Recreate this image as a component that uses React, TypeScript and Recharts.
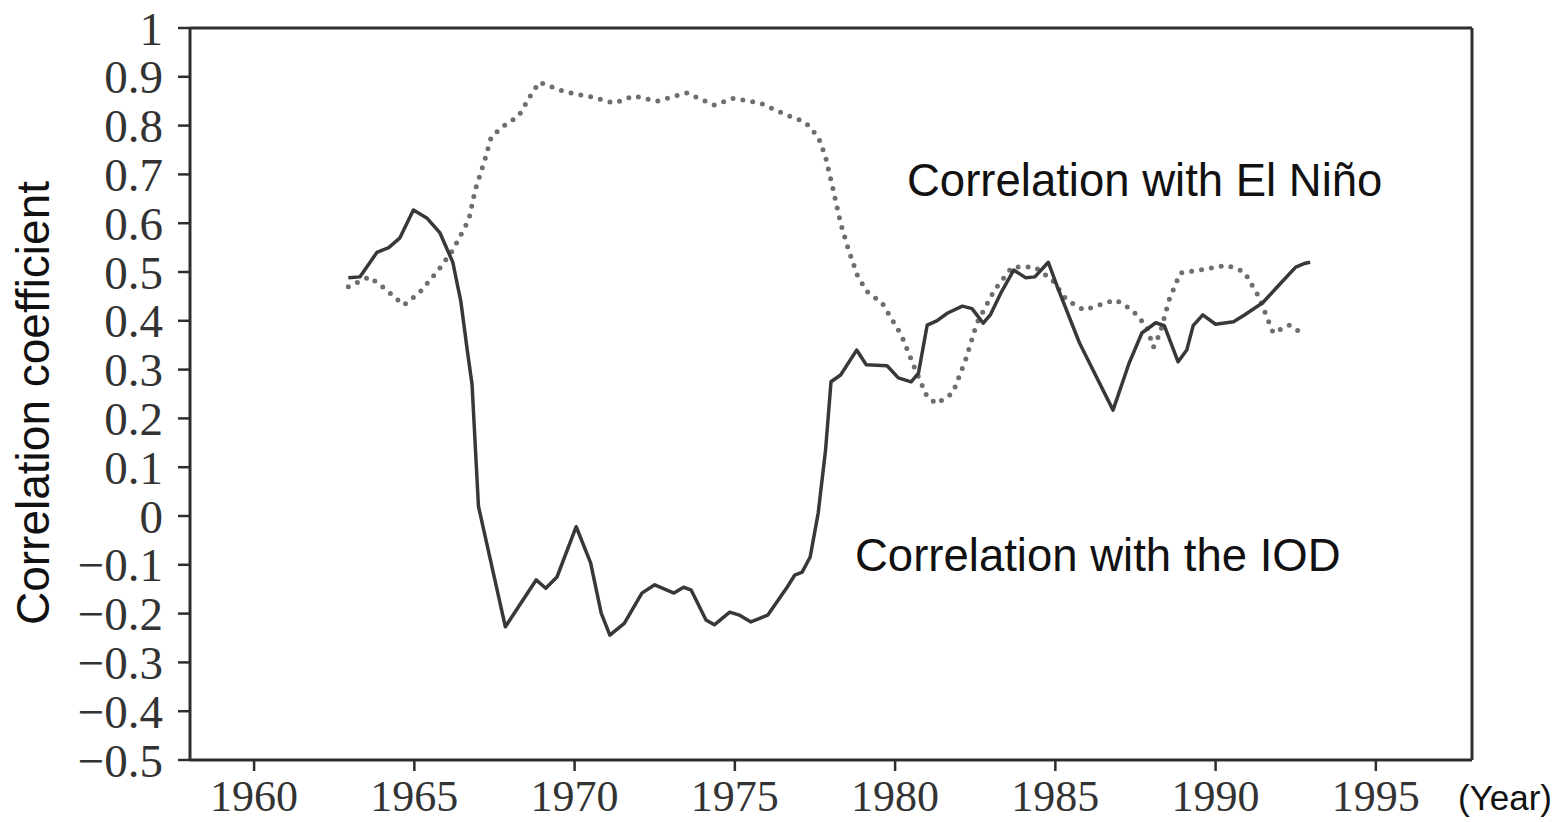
import React from 'react';
import { LineChart, Line, XAxis, YAxis, ReferenceLine } from 'recharts';

const iodYears = [1962.94, 1963.3, 1963.83, 1964.2, 1964.55, 1964.97, 1965.4, 1965.8, 1966.2, 1966.45, 1966.65, 1966.8, 1967.0, 1967.84, 1968.8, 1969.1, 1969.45, 1970.05, 1970.5, 1970.83, 1971.1, 1971.55, 1972.1, 1972.5, 1973.1, 1973.4, 1973.64, 1974.1, 1974.36, 1974.84, 1975.14, 1975.5, 1976.03, 1976.63, 1976.87, 1977.1, 1977.35, 1977.6, 1977.83, 1978.0, 1978.3, 1978.8, 1979.1, 1979.75, 1980.1, 1980.5, 1980.73, 1981.0, 1981.3, 1981.64, 1982.1, 1982.4, 1982.75, 1982.97, 1983.3, 1983.7, 1984.08, 1984.36, 1984.78, 1985.06, 1985.75, 1986.8, 1987.3, 1987.7, 1988.13, 1988.4, 1988.83, 1989.1, 1989.3, 1989.6, 1990.0, 1990.56, 1990.9, 1991.47, 1992.03, 1992.5, 1992.8, 1992.95];
const iodValues = [0.488, 0.49, 0.54, 0.55, 0.57, 0.627, 0.61, 0.58, 0.52, 0.44, 0.34, 0.27, 0.02, -0.227, -0.131, -0.148, -0.125, -0.022, -0.096, -0.199, -0.244, -0.22, -0.158, -0.141, -0.158, -0.146, -0.152, -0.213, -0.223, -0.197, -0.203, -0.217, -0.203, -0.146, -0.121, -0.115, -0.084, 0.006, 0.135, 0.275, 0.289, 0.34, 0.31, 0.308, 0.283, 0.275, 0.293, 0.391, 0.4, 0.416, 0.43, 0.425, 0.395, 0.412, 0.457, 0.504, 0.488, 0.49, 0.52, 0.47, 0.355, 0.217, 0.313, 0.375, 0.396, 0.39, 0.316, 0.34, 0.39, 0.412, 0.393, 0.398, 0.412, 0.437, 0.477, 0.51, 0.518, 0.52];

const ninoYears = [1962.94, 1963.6, 1964.06, 1964.67, 1965.15, 1965.75, 1966.2, 1966.7, 1966.9, 1967.2, 1967.4, 1967.8, 1968.26, 1968.6, 1968.9, 1969.7, 1970.5, 1971.25, 1971.85, 1972.56, 1973.5, 1974.36, 1974.96, 1975.8, 1976.6, 1977.2, 1977.6, 1977.83, 1978.07, 1978.3, 1978.55, 1978.84, 1979.14, 1979.6, 1980.2, 1980.6, 1981.0, 1981.3, 1981.8, 1982.2, 1982.55, 1983.1, 1983.65, 1984.36, 1984.9, 1985.35, 1985.9, 1986.88, 1987.4, 1987.85, 1988.06, 1988.27, 1988.55, 1988.9, 1989.5, 1990.35, 1990.9, 1991.35, 1991.8, 1992.3, 1992.8];
const ninoValues = [0.47, 0.49, 0.467, 0.432, 0.457, 0.504, 0.545, 0.607, 0.668, 0.73, 0.777, 0.8, 0.82, 0.859, 0.889, 0.869, 0.859, 0.846, 0.861, 0.85, 0.867, 0.842, 0.856, 0.846, 0.822, 0.807, 0.777, 0.736, 0.668, 0.6, 0.545, 0.49, 0.459, 0.436, 0.37, 0.305, 0.244, 0.23, 0.252, 0.32, 0.395, 0.463, 0.51, 0.51, 0.484, 0.443, 0.422, 0.443, 0.422, 0.388, 0.346, 0.375, 0.443, 0.498, 0.504, 0.514, 0.5, 0.449, 0.375, 0.391, 0.37];

const xTicks = [1960, 1965, 1970, 1975, 1980, 1985, 1990, 1995];
const yTicks = [-0.5, -0.4, -0.3, -0.2, -0.1, 0, 0.1, 0.2, 0.3, 0.4, 0.5, 0.6, 0.7, 0.8, 0.9, 1];

const iodData = iodYears.map((year, i) => ({ year, value: iodValues[i] }));
const ninoData = ninoYears.map((year, i) => ({ year, value: ninoValues[i] }));

const fmtY = (v: number) => {
  if (Math.abs(v) < 1e-9) return '0';
  if (Math.abs(v - 1) < 1e-9) return '1';
  return v.toFixed(1).replace('-', '\u2212');
};

const axisColor = '#2e2e2e';
const yTickStyle = { fontFamily: '"Liberation Serif", serif', fontSize: 47, fill: '#333' };
const xTickStyle = { fontFamily: '"Liberation Serif", serif', fontSize: 44, fill: '#333' };
const sans = 'Arial, "Liberation Sans", sans-serif';

export default function App() {
  return (
    <div style={{ position: 'relative', top: -8, width: 1546, height: 822 }}>
      <LineChart width={1546} height={822} margin={{ top: 28, right: 82, bottom: 0, left: 0 }}>
        <XAxis
          dataKey="year"
          type="number"
          domain={[1958, 1998]}
          ticks={xTicks}
          allowDuplicatedCategory={false}
          height={62}
          tickSize={11}
          tickMargin={9}
          tick={xTickStyle}
          axisLine={{ stroke: axisColor, strokeWidth: 3 }}
          tickLine={{ stroke: axisColor, strokeWidth: 2.5 }}
        />
        <YAxis
          type="number"
          domain={[-0.5, 1]}
          ticks={yTicks}
          interval={0}
          width={182}
          tickSize={12}
          tickMargin={15}
          tickFormatter={fmtY}
          tick={yTickStyle}
          axisLine={{ stroke: axisColor, strokeWidth: 3 }}
          tickLine={{ stroke: axisColor, strokeWidth: 2.5 }}
        />
        <ReferenceLine y={1} stroke={axisColor} strokeWidth={3} />
        <ReferenceLine x={1998} stroke={axisColor} strokeWidth={3} />
        <Line
          data={ninoData}
          dataKey="value"
          type="linear"
          stroke="#6e6e6e"
          strokeWidth={5}
          strokeDasharray="0 10"
          strokeLinecap="round"
          dot={false}
          activeDot={false}
          isAnimationActive={false}
        />
        <Line
          data={iodData}
          dataKey="value"
          type="linear"
          stroke="#383838"
          strokeWidth={3.5}
          strokeLinejoin="round"
          dot={false}
          activeDot={false}
          isAnimationActive={false}
        />
      </LineChart>
      <div style={{ position: 'absolute', left: 899, top: 158, fontFamily: sans, fontSize: 45.5, lineHeight: 1, color: '#111', whiteSpace: 'nowrap' }}>
        Correlation with El Niño
      </div>
      <div style={{ position: 'absolute', left: 847, top: 533, fontFamily: sans, fontSize: 45.5, lineHeight: 1, color: '#111', whiteSpace: 'nowrap' }}>
        Correlation with the IOD
      </div>
      <div style={{ position: 'absolute', left: 1450, top: 780, fontFamily: sans, fontSize: 35, lineHeight: 1, color: '#111', whiteSpace: 'nowrap' }}>
        (Year)
      </div>
      <div style={{ position: 'absolute', left: 25, top: 403, fontFamily: sans, fontSize: 46, lineHeight: 1, color: '#111', whiteSpace: 'nowrap', transform: 'translate(-50%, -50%) rotate(-90deg)' }}>
        Correlation coefficient
      </div>
    </div>
  );
}
